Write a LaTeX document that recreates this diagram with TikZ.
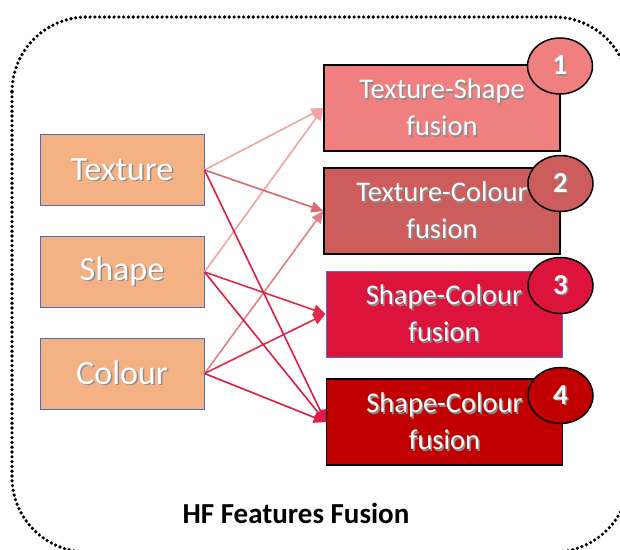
\documentclass[tikz,border=0pt]{standalone}
\usepackage{fontspec}
\setmainfont{Carlito}
\usetikzlibrary{arrows.meta,shapes.geometric}
\definecolor{inbox}{HTML}{F4B183}
\definecolor{inborder}{HTML}{4472C4}
\definecolor{fa}{HTML}{F08080}
\definecolor{fb}{HTML}{CD5C5C}
\definecolor{fc}{HTML}{DC143C}
\definecolor{fd}{HTML}{C00000}
\definecolor{la}{HTML}{F4A3A3}
\definecolor{lb}{HTML}{D96B6E}
\definecolor{lc}{HTML}{E02A4C}
\definecolor{ld}{HTML}{DC1E44}
\newcommand\shd[1]{\leavevmode\rlap{\kern1.5pt\raisebox{-1.5pt}{\color{black!45}#1}}#1}
\tikzset{
  inbox/.style={draw=inborder, line width=1pt, fill=inbox, minimum width=164pt, minimum height=71pt, inner sep=0pt, text=white, font=\fontsize{34}{38}\selectfont},
  fbox/.style={draw=black, line width=1.4pt, minimum width=236pt, minimum height=86pt, inner sep=0pt, text=white, align=center, font=\fontsize{28.5}{37}\selectfont},
  num/.style={ellipse, draw=black, line width=1.5pt, minimum width=65pt, minimum height=56pt, inner sep=0pt, text=white, font=\bfseries\fontsize{29}{32}\selectfont},
  link/.style={line width=1.6pt, -{Triangle[length=12pt,width=11pt]}},
  frame/.style={line width=3.6pt, dash pattern=on 0pt off 4.8pt, line cap=round, rounded corners=75pt}
}
\begin{document}
\begin{tikzpicture}[x=1pt,y=-1pt]
\useasboundingbox (0,0) rectangle (620,549);
\draw[frame] (12,17) rectangle (629,552);
\node[inbox] (tex) at (122,170) {\shd{Texture}};
\node[inbox] (shp) at (122,272) {\shd{Shape}};
\node[inbox] (col) at (122,373.5) {\shd{Colour}};
\node[fbox, fill=fa] (f1) at (442,108) {\shd{Texture-Shape}\\\shd{fusion}};
\node[fbox, fill=fb] (f2) at (442,211) {\shd{Texture-Colour}\\\shd{fusion}};
\node[fbox, fill=fc, draw=inborder, line width=1pt] (f3) at (444,314) {\shd{Shape-Colour}\\\shd{fusion}};
\node[fbox, fill=fd] (f4) at (444.5,422) {\shd{Shape-Colour}\\\shd{fusion}};
\draw[link, la] (tex.east) -- (f1.west);
\draw[link, la] (shp.east) -- (f1.west);
\draw[link, lb] (tex.east) -- (f2.west);
\draw[link, lb!85!white] (col.east) -- (f2.west);
\draw[link, lc] (shp.east) -- (f3.west);
\draw[link, lc] (col.east) -- (f3.west);
\draw[link, ld] (tex.east) -- (f4.west);
\draw[link, ld] (shp.east) -- (f4.west);
\draw[link, ld] (col.east) -- (f4.west);
\node[num, fill=fa] (n1) at (560,66) {\shd{1}};
\node[num, fill=fb] (n2) at (560.5,183.5) {\shd{2}};
\node[num, fill=fc] (n3) at (560.5,285.5) {\shd{3}};
\node[num, fill=fd] (n4) at (560.5,395.5) {\shd{4}};
\node[font=\bfseries\fontsize{29}{32}\selectfont] (title) at (296,513) {HF Features Fusion};
\end{tikzpicture}
\end{document}
